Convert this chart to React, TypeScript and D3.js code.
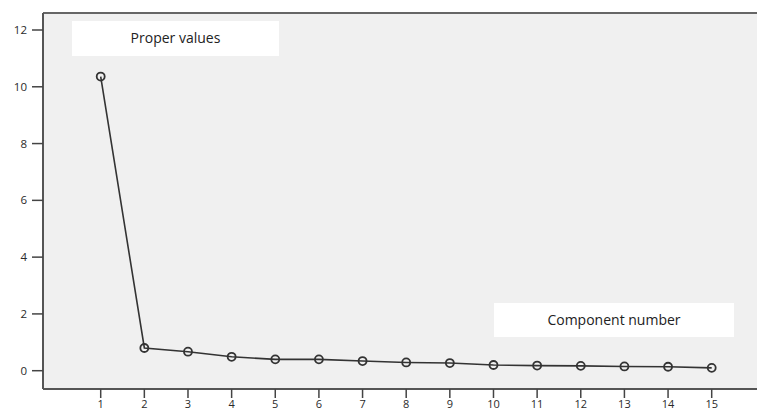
import React from "react";
import * as d3 from "d3";

const components = [1, 2, 3, 4, 5, 6, 7, 8, 9, 10, 11, 12, 13, 14, 15];
const eigenvalues = [10.36, 0.8, 0.67, 0.49, 0.4, 0.4, 0.34, 0.29, 0.27, 0.2, 0.18, 0.17, 0.15, 0.14, 0.1];
const yTicks = [0, 2, 4, 6, 8, 10, 12];
const yLabel = "Proper values";
const xLabel = "Component number";

const W = 757;
const H = 412;
const plotLeft = 43;
const plotTop = 13;
const plotRight = 757;
const plotBottom = 389;

export default function App() {
  const x = d3.scaleLinear().domain([1, 15]).range([100.7, 711.7]);
  const y = d3.scaleLinear().domain([0, 12]).range([370.7, 30]);
  const line = d3
    .line<number>()
    .x((_, i) => x(components[i]))
    .y((d) => y(d));
  const font = "'Open Sans', 'Noto Sans', sans-serif";
  const textColor = "#2a2a2a";
  return (
    <svg
      width={W}
      height={H}
      style={{ position: "absolute", left: 0, top: 0, background: "#fff" }}
      fontFamily={font}
    >
      <rect x={plotLeft} y={plotTop} width={plotRight - plotLeft} height={plotBottom - plotTop} fill="#f0f0f0" />
      <line x1={plotLeft} x2={plotRight} y1={plotTop} y2={plotTop} stroke="#666" strokeWidth={2} />
      <line x1={plotLeft} x2={plotLeft} y1={plotTop} y2={plotBottom} stroke="#555" strokeWidth={2} />
      <line x1={plotLeft} x2={plotRight} y1={plotBottom} y2={plotBottom} stroke="#555" strokeWidth={2} />
      {yTicks.map((t) => (
        <g key={t}>
          <line x1={32} x2={plotLeft} y1={y(t)} y2={y(t)} stroke="#444" strokeWidth={1.5} />
          <text x={27} y={y(t)} dy="0.35em" textAnchor="end" fontSize={11.5} fill={textColor}>
            {t}
          </text>
        </g>
      ))}
      {components.map((c) => (
        <g key={c}>
          <line x1={x(c)} x2={x(c)} y1={plotBottom} y2={plotBottom + 9} stroke="#444" strokeWidth={1.5} />
          <text x={x(c)} y={408} textAnchor="middle" fontSize={11} fill={textColor}>
            {c}
          </text>
        </g>
      ))}
      <rect x={72} y={21} width={207} height={35} fill="#fff" />
      <text x={175.5} y={38.5} dy="0.35em" textAnchor="middle" fontSize={14} fill="#222">
        {yLabel}
      </text>
      <rect x={494} y={303} width={240} height={34} fill="#fff" />
      <text x={614} y={320} dy="0.35em" textAnchor="middle" fontSize={14} fill="#222">
        {xLabel}
      </text>
      <path d={line(eigenvalues) || ""} fill="none" stroke="#333" strokeWidth={1.6} />
      {eigenvalues.map((v, i) => (
        <circle key={i} cx={x(components[i])} cy={y(v)} r={4} fill="none" stroke="#333" strokeWidth={1.8} />
      ))}
    </svg>
  );
}
